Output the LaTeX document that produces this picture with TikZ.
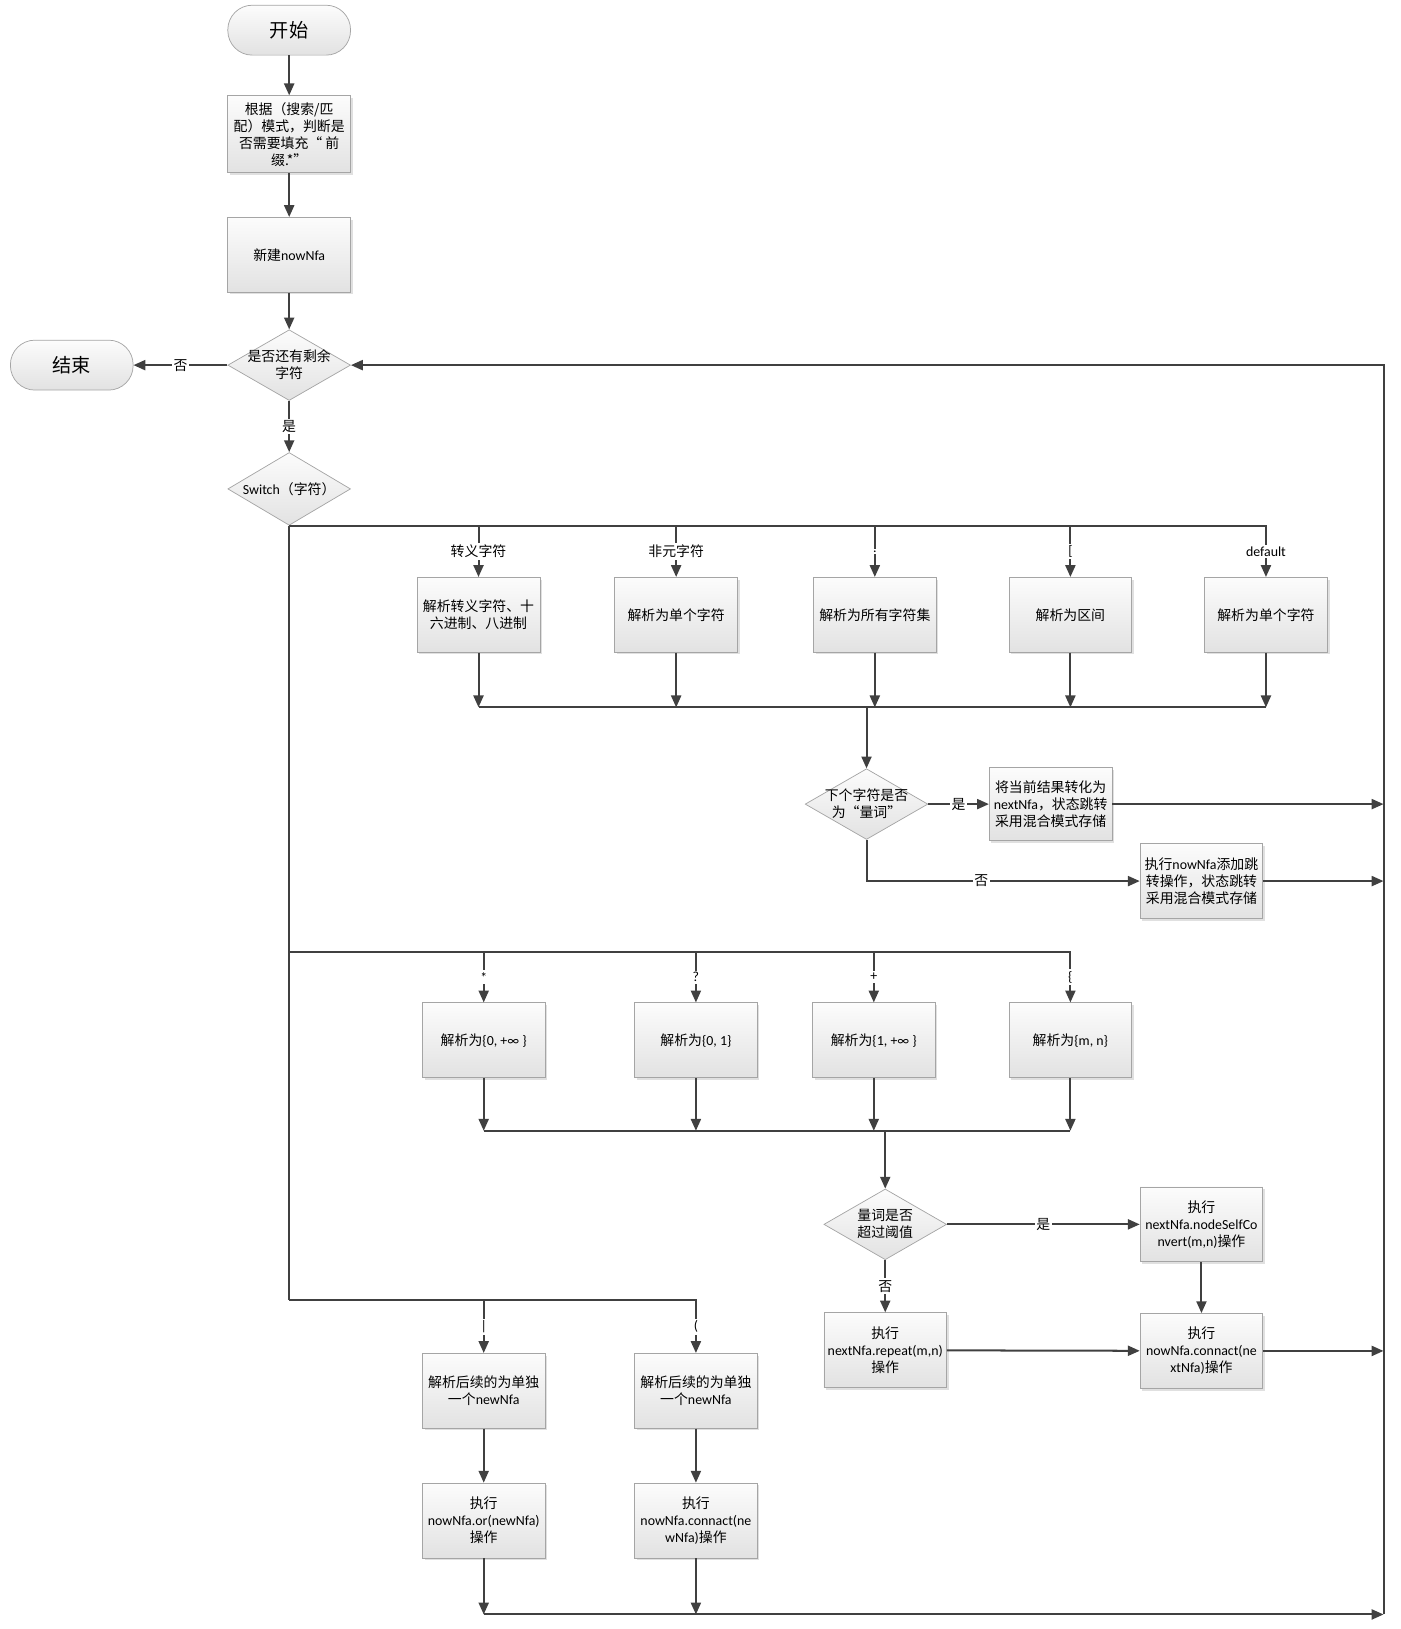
\documentclass[tikz,border=0pt]{standalone}
\usepackage{fontspec}
\setmainfont{Carlito}
\newfontfamily\cn{Noto Sans CJK SC}
\newfontfamily\latinfont{Carlito}
\newcommand\latn[1]{{\latinfont #1}}
\usetikzlibrary{shapes.geometric,arrows.meta,positioning,calc,shadows}
\definecolor{flowline}{RGB}{64,64,64}
\definecolor{boxedge}{RGB}{165,165,165}
\definecolor{boxtop}{RGB}{252,252,252}
\definecolor{boxbottom}{RGB}{226,226,226}

\begin{document}
\begin{tikzpicture}[
    x=0.02cm, y=-0.02cm,
    every node/.style={font=\cn\fontsize{7.6}{9.3}\selectfont},
    pbox/.style={rectangle, draw=boxedge, top color=boxtop, bottom color=boxbottom, minimum width=2.36cm, minimum height=1.44cm, align=center, inner sep=2pt, drop shadow={shadow xshift=1.2pt, shadow yshift=-1.2pt, fill=black, opacity=0.12}},
    decide/.style={diamond, draw=boxedge, top color=boxtop, bottom color=boxbottom, minimum width=2.36cm, minimum height=1.36cm, inner sep=0pt},
    term/.style={rectangle, rounded corners=0.47cm, draw=boxedge, top color=boxtop, bottom color=boxbottom, minimum width=2.36cm, minimum height=0.96cm, font=\cn\fontsize{10.5}{12}\selectfont},
    arrow/.style={-{Triangle[length=6.5pt,width=5.5pt]}, line width=1.1pt, draw=flowline},
    line/.style={line width=1.1pt, draw=flowline},
    lbl/.style={fill=white, inner sep=1pt}
]
\useasboundingbox (0,0) rectangle (1346,1566);

% === MAIN COLUMN ===
\node[term] (start) at (278,29) {开始};
\node[pbox, minimum height=1.48cm] (mode) at (278,129) {根据（搜索/匹\\配）模式，判断是\\否需要填充“ 前\\缀.*”};
\node[pbox] (newnfa) at (278,245) {新建\latn{nowNfa}};
\node[decide, label={[align=center]center:是否还有剩余\\字符}] (more) at (278,351) {};
\node[term] (end) at (69,351) {结束};
\node[decide, minimum height=1.4cm, label={center:\latn{Switch}（字符）}] (switch) at (278,470) {};

% === SINGLE CHARS (row A) ===
\node[pbox] (escA) at (460,591) {解析转义字符、十\\六进制、八进制};
\node[pbox] (plainA) at (650,591) {解析为单个字符};
\node[pbox] (anyA) at (841,591) {解析为所有字符集};
\node[pbox] (rangeA) at (1029,591) {解析为区间};
\node[pbox] (defA) at (1217,591) {解析为单个字符};
\coordinate (joinA) at (833,680);

\node[decide, label={[align=center]center:下个字符是否\\为“量词”}] (quant) at (833,773) {};
\node[pbox, minimum height=1.4cm] (toNext) at (1010,773) {将当前结果转化为\\\latn{nextNfa}，状态跳转\\采用混合模式存储};
\node[pbox] (addJump) at (1155,847) {执行\latn{nowNfa}添加跳\\转操作，状态跳转\\采用混合模式存储};

% === QUANTIFIERS (row B) ===
\coordinate (busB) at (278,915);
\node[pbox] (starB) at (465,1000) {解析为\latn{\{0, +∞ \}}};
\node[pbox] (optB) at (669,1000) {解析为\latn{\{0, 1\}}};
\node[pbox] (plusB) at (840,1000) {解析为\latn{\{1, +∞ \}}};
\node[pbox] (rngB) at (1029,1000) {解析为\latn{\{m, n\}}};
\coordinate (joinB) at (851,1087);

\node[decide, label={[align=center]center:量词是否\\超过阈值}] (limit) at (851,1177) {};
\node[pbox] (selfConv) at (1155,1177) {执行\\\latn{nextNfa.nodeSelfCo}\\\latn{nvert(m,n)}操作};
\node[pbox, below=0.98cm of selfConv] (connNext) {执行\\\latn{nowNfa.connact(ne}\\\latn{xtNfa)}操作};
\node[pbox] (repeatB) at (851,1298) {执行\\\latn{nextNfa.repeat(m,n)}\\操作};

% === OR / GROUP (row C) ===
\coordinate (busC) at (278,1250);
\node[pbox] (orC) at (465,1337) {解析后续的为单独\\一个\latn{newNfa}};
\node[pbox] (grpC) at (669,1337) {解析后续的为单独\\一个\latn{newNfa}};
\node[pbox, below=1.04cm of orC] (orDo) {执行\\\latn{nowNfa.or(newNfa)}\\操作};
\node[pbox, below=1.04cm of grpC] (grpDo) {执行\\\latn{nowNfa.connact(ne}\\\latn{wNfa)}操作};

% === LOOP BACK ===
\coordinate (loopEnd) at (1330,1552);

% === ARROWS ===
\draw[arrow] (start) -- (mode);
\draw[arrow] (mode) -- (newnfa);
\draw[arrow] (newnfa) -- (more);
\draw[arrow] (more) -- node[lbl] {否} (end);
\draw[arrow] (more) -- node[lbl] {是} (switch);

\draw[line] (switch.south) -- (busC);
\draw[arrow] (switch.south) -| node[lbl, pos=0.75] {\latn{default}} (defA);
\draw[arrow] (escA |- switch.south) -- node[lbl] {转义字符} (escA);
\draw[arrow] (plainA |- switch.south) -- node[lbl] {非元字符} (plainA);
\draw[arrow] (anyA |- switch.south) -- node[lbl] {\latn{.}} (anyA);
\draw[arrow] (rangeA |- switch.south) -- node[lbl] {\latn{[}} (rangeA);

\draw[arrow] (escA) -- (escA |- joinA);
\draw[arrow] (plainA) -- (plainA |- joinA);
\draw[arrow] (anyA) -- (anyA |- joinA);
\draw[arrow] (rangeA) -- (rangeA |- joinA);
\draw[arrow] (defA) -- (defA |- joinA);
\draw[line] (escA |- joinA) -- (defA |- joinA);
\draw[arrow] (joinA) -- (quant);

\draw[arrow] (quant) -- node[lbl] {是} (toNext);
\draw[arrow] (quant.south) |- node[lbl, pos=0.71] {否} (addJump.west);
\draw[arrow] (toNext) -- (toNext -| loopEnd);
\draw[arrow] (addJump) -- (addJump -| loopEnd);

\draw[arrow] (busB) -| node[lbl, pos=0.75] {\latn{\{}} (rngB);
\draw[arrow] (starB |- busB) -- node[lbl] {\latn{*}} (starB);
\draw[arrow] (optB |- busB) -- node[lbl] {\latn{?}} (optB);
\draw[arrow] (plusB |- busB) -- node[lbl] {\latn{+}} (plusB);

\draw[arrow] (starB) -- (starB |- joinB);
\draw[arrow] (optB) -- (optB |- joinB);
\draw[arrow] (plusB) -- (plusB |- joinB);
\draw[arrow] (rngB) -- (rngB |- joinB);
\draw[line] (starB |- joinB) -- (rngB |- joinB);
\draw[arrow] (joinB) -- (limit);

\draw[arrow] (limit) -- node[lbl] {是} (selfConv);
\draw[arrow] (limit) -- node[lbl] {否} (repeatB);
\draw[arrow] (selfConv) -- (connNext);
\draw[arrow] (repeatB) -- (connNext);
\draw[arrow] (connNext) -- (connNext -| loopEnd);

\draw[arrow] (busC) -| node[lbl, pos=0.75] {\latn{(}} (grpC);
\draw[arrow] (orC |- busC) -- node[lbl] {\latn{|}} (orC);
\draw[arrow] (orC) -- (orDo);
\draw[arrow] (grpC) -- (grpDo);
\draw[arrow] (orDo) -- (orDo |- loopEnd);
\draw[arrow] (grpDo) -- (grpDo |- loopEnd);
\draw[arrow] (orDo |- loopEnd) -- (loopEnd);
\draw[arrow] (loopEnd) -- (loopEnd |- more) -- (more);

\end{tikzpicture}
\end{document}
